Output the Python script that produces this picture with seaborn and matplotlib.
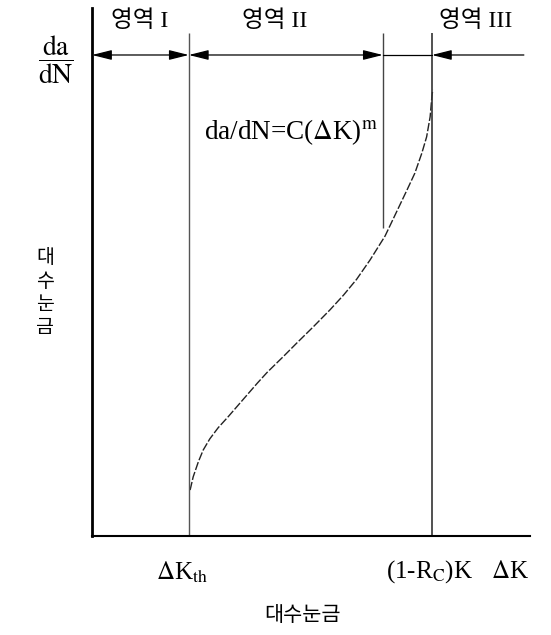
import matplotlib
matplotlib.use("Agg")
import matplotlib.pyplot as plt
import seaborn as sns
import pandas as pd

# ---- data (log-scale positions in arbitrary units 0..100) ----
curve_x = [22.4, 23.1, 24.3, 25.4, 26.9, 28.8, 31.1, 33.4, 35.7, 37.8, 40.0, 43.7, 46.7,
           50.5, 54.3, 57.4, 60.4, 63.5, 66.9, 69.6, 71.9, 73.7, 75.3, 76.4, 77.2, 77.6, 77.8]
curve_y = [8.7, 11.2, 14.1, 16.3, 18.4, 20.5, 22.6, 24.8, 27.0, 29.0, 31.0, 34.0, 36.5,
           39.6, 42.8, 45.6, 48.6, 52.3, 56.8, 61.5, 65.5, 68.7, 72.5, 75.6, 79.4, 83.2, 84.5]
dk_th = 22.1          # threshold ΔK_th
region2_end = 66.4    # end of region II
dk_c = 77.6           # (1-Rc)K
arrow_y = 91.1
region_labels = ["영역 I", "영역 II", "영역 III"]
region_label_x = [11.0, 41.8, 87.6]
x_labels = [r"$\Delta$K$_{\rm th}$", r"(1-R$_{\rm C}$)K", r"$\Delta$K"]
x_label_pos = [20.5, 77.0, 95.4]
equation = r"da/dN=C($\Delta$K)$^{\rm m}$"

sns.set_theme(style="white")
plt.rcParams["font.family"] = ["Liberation Serif", "Noto Sans CJK KR", "DejaVu Sans"]
plt.rcParams["mathtext.fontset"] = "stix"

fig = plt.figure(figsize=(5.51, 6.35), dpi=100)
ax = fig.add_axes([92/551, 99/635, 438/551, 528/635])
ax.set_xlim(0, 100)
ax.set_ylim(0, 100)

df = pd.DataFrame({"x": curve_x, "y": curve_y})
sns.lineplot(data=df, x="x", y="y", ax=ax, color="#222222", lw=1.0,
             linestyle=(0, (6, 1.5)), sort=False)

# vertical lines
ax.vlines(dk_th, 0, 95.3, color="#555555", lw=1.0)
ax.vlines(dk_c, 0, 95.3, color="#333333", lw=1.2)
ax.vlines(region2_end, 58.3, 95.3, color="#444444", lw=1.0)

# region arrows
ap = dict(arrowstyle="<|-|>,head_length=1.0,head_width=0.25", color="black", lw=0.9,
          shrinkA=0, shrinkB=0)
ax.annotate("", xy=(0, arrow_y), xytext=(dk_th, arrow_y), arrowprops=ap)
ax.annotate("", xy=(dk_th, arrow_y), xytext=(region2_end, arrow_y), arrowprops=ap)
ax.plot([region2_end, dk_c], [arrow_y, arrow_y], color="black", lw=0.9)
ap1 = dict(arrowstyle="-|>,head_length=1.0,head_width=0.25", color="black", lw=0.9,
           shrinkA=0, shrinkB=0)
ax.annotate("", xy=(dk_c, arrow_y), xytext=(98.6, arrow_y), arrowprops=ap1)

for lab, xx in zip(region_labels, region_label_x):
    ax.text(xx, 97.6, lab, ha="center", va="center", fontsize=17, color="black")

ax.text(25.5, 76.5, equation, ha="left", va="center", fontsize=19.5, color="black")

for lab, xx in zip(x_labels, x_label_pos):
    ax.text(xx, -6.8, lab, ha="center", va="center", fontsize=18, color="black",
            clip_on=False)

ax.text(48.0, -15.3, "대수눈금", ha="center", va="center", fontsize=15,
        color="black", clip_on=False)

fig.text(45/551, 1 - 293/635, "\n".join("대수눈금"), ha="center", va="center",
         fontsize=14, linespacing=1.45, color="black")
fig.text(56/551, 1 - 60/635, r"$\dfrac{\rm da}{\rm dN}$", ha="center", va="center",
         fontsize=20, color="black")

ax.set_xticks([])
ax.set_yticks([])
ax.set_xlabel("")
ax.set_ylabel("")
for s in ["top", "right"]:
    ax.spines[s].set_visible(False)
ax.spines["left"].set_linewidth(2.0)
ax.spines["bottom"].set_linewidth(1.5)
ax.spines["left"].set_color("black")
ax.spines["bottom"].set_color("black")

fig.savefig("out.png", dpi=100)
